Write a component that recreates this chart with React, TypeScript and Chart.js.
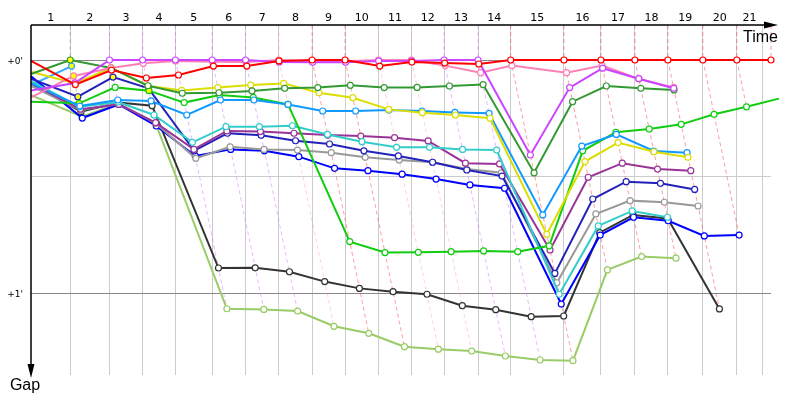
import { useEffect, useRef } from "react";
import { Chart, registerables } from "chart.js";

Chart.register(...registerables);

// Leader's elapsed race time (minutes) when each lap 1..21 is completed
const leaderLapTimes = [
  0.81, 1.619, 2.303, 2.979, 3.738, 4.427, 5.113, 5.8, 6.48, 7.169, 7.849,
  8.522, 9.223, 9.897, 10.996, 11.759, 12.46, 13.14, 13.862, 14.563, 15.268,
];
// Vertical grid lines: lap boundaries, the last one at the flag mark
const gridTimes = [...leaderLapTimes.slice(0, 20), 15.087];
const lapLabels = [
  "1", "2", "3", "4", "5", "6", "7", "8", "9", "10", "11",
  "12", "13", "14", "15", "16", "17", "18", "19", "20", "21",
];
const gapTicks = [0, 0.5, 1];
const gapTickLabels = ["+0'", "", "+1'"];

// Gap to the leader (minutes), index 0 = start, index n = end of lap n
const gapRed = [0.004, 0.105, 0.043, 0.077, 0.064, 0.026, 0.026, 0.004, 0, 0, 0.026, 0.009, 0.013, 0.017, 0, 0, 0, 0, 0, 0, 0, 0];
const gapViolet = [0.13, 0.098, 0, 0, 0, 0, 0, 0.008, 0.01, 0.01, 0.004, 0.004, 0, 0, 0.406, 0.118, 0.035, 0.08, 0.121];
const gapPink = [0.16, 0.068, 0.034, 0.014, 0.004, 0.007, 0.009, 0, 0.006, 0.005, 0, 0, 0.024, 0.054, 0.024, 0.054, 0.024, 0.081, 0.117];
const gapDarkGreen = [0.06, 0, 0.034, 0.11, 0.142, 0.14, 0.132, 0.121, 0.118, 0.108, 0.118, 0.117, 0.111, 0.105, 0.482, 0.178, 0.111, 0.121, 0.128];
const gapYellow = [0.05, 0.1, 0.034, 0.11, 0.13, 0.118, 0.107, 0.1, 0.14, 0.161, 0.211, 0.225, 0.235, 0.249, 0.745, 0.434, 0.353, 0.392, 0.416];
const gapSkyBlue = [0.1, 0.197, 0.171, 0.175, 0.235, 0.171, 0.171, 0.19, 0.218, 0.218, 0.214, 0.218, 0.224, 0.228, 0.662, 0.368, 0.318, 0.389, 0.396];
const gapGreen = [0.178, 0.185, 0.117, 0.131, 0.182, 0.15, 0.16, 0.19, 0.776, 0.823, 0.822, 0.819, 0.816, 0.819, 0.794, 0.388, 0.309, 0.295, 0.275, 0.232, 0.2, 0.165];
const gapCyan = [0.09, 0.2, 0.18, 0.235, 0.352, 0.285, 0.285, 0.281, 0.318, 0.349, 0.373, 0.373, 0.382, 0.385, 1.001, 0.709, 0.645, 0.672];
const gapPurple = [0.1, 0.21, 0.19, 0.268, 0.382, 0.303, 0.306, 0.313, 0.321, 0.325, 0.332, 0.346, 0.441, 0.444, 0.812, 0.501, 0.441, 0.466, 0.473];
const gapNavy = [0.08, 0.157, 0.073, 0.121, 0.388, 0.313, 0.322, 0.345, 0.359, 0.388, 0.41, 0.437, 0.47, 0.496, 0.912, 0.594, 0.52, 0.527, 0.553];
const gapGray = [0.11, 0.215, 0.185, 0.27, 0.42, 0.371, 0.382, 0.385, 0.396, 0.416, 0.427, 0.437, 0.466, 0.482, 0.952, 0.658, 0.601, 0.608, 0.624];
const gapBlue = [0.07, 0.248, 0.19, 0.282, 0.41, 0.382, 0.388, 0.413, 0.463, 0.473, 0.488, 0.509, 0.534, 0.548, 1.043, 0.748, 0.672, 0.687, 0.752, 0.748];
const gapBlack = [0.1, 0.221, 0.182, 0.195, 0.889, 0.888, 0.905, 0.947, 0.976, 0.99, 1.001, 1.05, 1.067, 1.097, 1.094, 0.738, 0.662, 0.677, 1.064];
const gapOlive = [0.15, 0.242, 0.185, 0.274, 1.063, 1.066, 1.073, 1.138, 1.168, 1.225, 1.236, 1.244, 1.265, 1.282, 1.285, 0.897, 0.84, 0.847];
const gapLightBlue = [0.107, 0.026];

// Laps whose marker is filled yellow
const yellowDarkGreen = [1];
const yellowGreen = [1, 3];
const yellowNavy = [1, 2];
const yellowPink = [1];
const yellowLightBlue = [1];

// Who led each lap (colour of the lap's time line)
const lapLeaders = [
  "darkgreen", "violet", "violet", "violet", "violet", "violet", "pink",
  "red", "red", "pink", "pink", "violet", "violet", "red", "red", "red",
  "red", "red", "red", "red", "red",
];

const drivers = [
  { id: "red", color: "#ff0000", gaps: gapRed, yellow: [] as number[] },
  { id: "violet", color: "#cc44ff", gaps: gapViolet, yellow: [] as number[] },
  { id: "pink", color: "#ff80b4", gaps: gapPink, yellow: yellowPink },
  { id: "darkgreen", color: "#339933", gaps: gapDarkGreen, yellow: yellowDarkGreen },
  { id: "yellow", color: "#dddd00", gaps: gapYellow, yellow: [] as number[] },
  { id: "skyblue", color: "#1199ff", gaps: gapSkyBlue, yellow: [] as number[] },
  { id: "green", color: "#11cc11", gaps: gapGreen, yellow: yellowGreen },
  { id: "cyan", color: "#33cccc", gaps: gapCyan, yellow: [] as number[] },
  { id: "purple", color: "#993399", gaps: gapPurple, yellow: [] as number[] },
  { id: "navy", color: "#2222bb", gaps: gapNavy, yellow: yellowNavy },
  { id: "gray", color: "#999999", gaps: gapGray, yellow: [] as number[] },
  { id: "blue", color: "#0000ff", gaps: gapBlue, yellow: [] as number[] },
  { id: "black", color: "#333333", gaps: gapBlack, yellow: [] as number[] },
  { id: "olive", color: "#99cc66", gaps: gapOlive, yellow: [] as number[] },
  { id: "lightblue", color: "#33aaff", gaps: gapLightBlue, yellow: yellowLightBlue },
];

const Y_MIN = -0.1496;
const Y_MAX = 1.3462;

function hexToRgba(hex: string, a: number) {
  const n = parseInt(hex.slice(1), 16);
  return `rgba(${(n >> 16) & 255},${(n >> 8) & 255},${n & 255},${a})`;
}

export default function App() {
  const canvasRef = useRef<HTMLCanvasElement | null>(null);

  useEffect(() => {
    document.body.style.margin = "0";
    const canvas = canvasRef.current;
    if (!canvas) return;

    const driverSets = drivers.map((d, k) => ({
      type: "line" as const,
      label: d.id,
      data: d.gaps.map((g, i) => ({ x: i === 0 ? 0 : leaderLapTimes[i - 1] + g, y: g })),
      borderColor: d.color,
      borderWidth: 2,
      pointRadius: (c: any) => (c.dataIndex === 0 ? 0 : 3),
      pointBorderColor: d.color,
      pointBorderWidth: 1.2,
      pointBackgroundColor: (c: any) => (d.yellow.includes(c.dataIndex) ? "#ffff00" : "#ffffff"),
      tension: 0,
      clip: false as const,
      order: k,
    }));

    // Each lap's time line: from the leader's crossing down to the last car's gap
    const lapSets = leaderLapTimes.map((t, i) => {
      const lap = i + 1;
      let maxGap = 0;
      drivers.forEach((d) => {
        if (d.gaps.length > lap) maxGap = Math.max(maxGap, d.gaps[lap]);
      });
      const leader = drivers.find((d) => d.id === lapLeaders[i])!;
      return {
        type: "line" as const,
        label: "lap" + lap,
        data: [
          { x: t, y: Y_MIN },
          { x: t, y: 0 },
          { x: t + maxGap, y: maxGap },
        ],
        borderColor: hexToRgba(leader.color, 0.38),
        borderWidth: 1,
        borderDash: [4, 3],
        pointRadius: 0,
        clip: false as const,
        order: 100 + i,
      };
    });

    const decor = {
      id: "decor",
      afterDraw(chart: any) {
        const { ctx, chartArea: a, scales } = chart;
        const x = scales.x;
        const y = scales.y;
        ctx.save();
        // lap numbers
        ctx.fillStyle = "#000";
        ctx.font = "11px 'DejaVu Sans'";
        ctx.textAlign = "center";
        ctx.textBaseline = "alphabetic";
        const bounds = [0, ...gridTimes];
        lapLabels.forEach((lab, i) => {
          const cx = (x.getPixelForValue(bounds[i]) + x.getPixelForValue(bounds[i + 1])) / 2;
          ctx.fillText(lab, cx, 21);
        });
        // gap labels
        ctx.font = "9px 'DejaVu Sans'";
        ctx.textAlign = "right";
        gapTicks.forEach((v, i) => {
          if (gapTickLabels[i]) ctx.fillText(gapTickLabels[i], a.left - 8, y.getPixelForValue(v) + 3.5);
        });
        // axes with arrows
        ctx.strokeStyle = "#000";
        ctx.fillStyle = "#000";
        ctx.lineWidth = 1.5;
        ctx.beginPath();
        ctx.moveTo(a.left, a.top);
        ctx.lineTo(768, a.top);
        ctx.moveTo(a.left, a.top);
        ctx.lineTo(a.left, 368);
        ctx.stroke();
        ctx.beginPath();
        ctx.moveTo(778, a.top);
        ctx.lineTo(764, a.top - 3.5);
        ctx.lineTo(764, a.top + 3.5);
        ctx.closePath();
        ctx.fill();
        ctx.beginPath();
        ctx.moveTo(a.left, 378);
        ctx.lineTo(a.left - 3.5, 364);
        ctx.lineTo(a.left + 3.5, 364);
        ctx.closePath();
        ctx.fill();
        // axis titles
        ctx.font = "16px 'Liberation Sans'";
        ctx.textAlign = "right";
        ctx.fillText("Time", 778, 41.5);
        ctx.textAlign = "center";
        ctx.fillText("Gap", 25, 390);
        ctx.restore();
      },
    };

    const chart = new Chart(canvas, {
      type: "line",
      data: { datasets: [...driverSets, ...lapSets] as any },
      options: {
        animation: false,
        responsive: false,
        devicePixelRatio: 1,
        layout: { padding: { left: 31, top: 25, right: 29, bottom: 25 } },
        plugins: { legend: { display: false }, tooltip: { enabled: false } },
        scales: {
          x: {
            type: "linear",
            position: "top",
            min: 0,
            max: leaderLapTimes[leaderLapTimes.length - 1],
            afterBuildTicks: (s: any) => {
              s.ticks = gridTimes.map((v) => ({ value: v }));
            },
            ticks: { display: false },
            grid: { color: "#cccccc", lineWidth: 1, drawTicks: false },
            border: { display: false },
          },
          y: {
            type: "linear",
            reverse: true,
            min: Y_MIN,
            max: Y_MAX,
            afterBuildTicks: (s: any) => {
              s.ticks = gapTicks.map((v) => ({ value: v }));
            },
            ticks: { display: false },
            grid: {
              color: (c: any) => (c.tick && c.tick.value === 0.5 ? "#cccccc" : "#888888"),
              lineWidth: 1,
              drawTicks: false,
            },
            border: { display: false },
          },
        },
      },
      plugins: [decor],
    });
    return () => chart.destroy();
  }, []);

  return (
    <div style={{ width: 800, height: 400, background: "#fff" }}>
      <canvas ref={canvasRef} width={800} height={400} />
    </div>
  );
}
